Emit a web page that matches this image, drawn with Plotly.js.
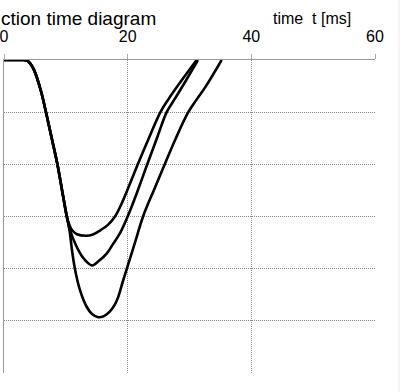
<!DOCTYPE html>
<html>
<head>
<meta charset="utf-8">
<script src="https://cdn.plot.ly/plotly-3.0.1.min.js"></script>
<style>html,body{margin:0;padding:0;background:#fff;}#chart{width:409px;height:392px;}</style>
</head>
<body>
<div id="chart"></div>
<script>
// time [ms] and deflection values
const tA = [0, 2.91, 3.72, 4.20, 4.85, 5.93, 6.79, 7.71, 8.62, 9.38, 10.14, 10.51, 10.99, 11.80, 13.26, 14.39, 15.52, 16.81, 17.95, 18.92, 19.89, 21.67, 23.44, 25.30, 26.60, 28.18, 31.16];
const yA = [0, 0, -0.01, -0.06, -0.19, -0.575, -1.0, -1.495, -1.99, -2.49, -2.99, -3.14, -3.26, -3.34, -3.37, -3.345, -3.27, -3.16, -3.00, -2.78, -2.51, -1.99, -1.495, -1.0, -0.75, -0.48, 0];

const tB = [0, 2.91, 3.72, 4.20, 4.85, 5.93, 6.79, 7.71, 8.62, 9.38, 10.14, 10.67, 11.64, 12.61, 13.58, 14.28, 15.36, 16.60, 17.62, 18.76, 20.0, 21.67, 23.20, 24.74, 26.31, 27.65, 28.99, 31.37];
const yB = [0, 0, -0.01, -0.06, -0.19, -0.575, -1.0, -1.495, -1.99, -2.49, -2.99, -3.26, -3.55, -3.76, -3.89, -3.94, -3.85, -3.71, -3.53, -3.32, -3.00, -2.49, -1.99, -1.495, -1.0, -0.74, -0.48, 0];

const tC = [0, 2.91, 3.72, 4.20, 4.85, 5.93, 6.79, 7.71, 8.62, 9.38, 10.14, 10.59, 10.99, 11.48, 12.29, 13.37, 14.23, 15.25, 16.17, 17.14, 17.87, 18.48, 19.16, 19.84, 21.18, 22.52, 24.25, 26.03, 27.81, 29.80, 31.20, 32.66, 35.20];
const yC = [0, 0, -0.01, -0.06, -0.19, -0.575, -1.0, -1.495, -1.99, -2.49, -2.99, -3.26, -3.64, -4.01, -4.41, -4.73, -4.87, -4.93, -4.91, -4.82, -4.70, -4.54, -4.27, -4.01, -3.50, -2.99, -2.49, -1.99, -1.495, -1.0, -0.75, -0.50, 0];

const xTicks = [0, 20, 40, 60];
const yTicks = [0, -1, -2, -3, -4, -5, -6];

const FONT = 'Arial, "Liberation Sans", sans-serif';

const mk = (x, y) => ({x: x, y: y, type: 'scatter', mode: 'lines',
  line: {color: '#000', width: 2.6, shape: 'spline', smoothing: 1},
  hoverinfo: 'skip', showlegend: false, cliponaxis: true});

const data = [mk(tA, yA), mk(tB, yB), mk(tC, yC)];

const layout = {
  width: 409, height: 392,
  margin: {l: 4, r: 34, t: 60, b: 19, pad: 0},
  paper_bgcolor: '#fff', plot_bgcolor: '#fff',
  font: {family: FONT, color: '#000'},
  showlegend: false,
  xaxis: {
    side: 'top', range: [0, 60], tickvals: xTicks, ticktext: xTicks.map(String),
    showgrid: true, gridcolor: '#888', griddash: '1px,1px', gridwidth: 1,
    showline: true, linecolor: '#999', linewidth: 1.5,
    ticks: 'outside', ticklen: 5, tickcolor: '#aaa', tickwidth: 1,
    ticklabelstandoff: 5, ticklabeloverflow: 'allow',
    tickfont: {size: 16, family: FONT, color: '#000'},
    zeroline: false, fixedrange: true
  },
  yaxis: {
    range: [-6, 0], tickvals: yTicks, showticklabels: false,
    showgrid: true, gridcolor: '#888', griddash: '1px,1px', gridwidth: 1,
    showline: true, linecolor: '#999', linewidth: 1.5,
    ticks: '', zeroline: false, fixedrange: true
  },
  annotations: [
    {text: 'ction time diagram', xref: 'paper', yref: 'paper', x: -0.0108, y: 1.132,
     xanchor: 'left', yanchor: 'middle', showarrow: false, borderpad: 0,
     font: {size: 19, family: FONT, color: '#000'}},
    {text: 'time&nbsp; t [ms]', xref: 'paper', yref: 'paper', x: 0.8315, y: 1.131,
     xanchor: 'center', yanchor: 'middle', showarrow: false, borderpad: 0,
     font: {size: 16, family: FONT, color: '#000'}}
  ],
  shapes: [
    {type: 'line', xref: 'paper', yref: 'paper', x0: 1.0647, x1: 1.0647, y0: -0.1, y1: 1.25,
     line: {color: '#ececec', width: 1}}
  ]
};

Plotly.newPlot('chart', data, layout, {displayModeBar: false, staticPlot: true});
</script>
</body>
</html>
